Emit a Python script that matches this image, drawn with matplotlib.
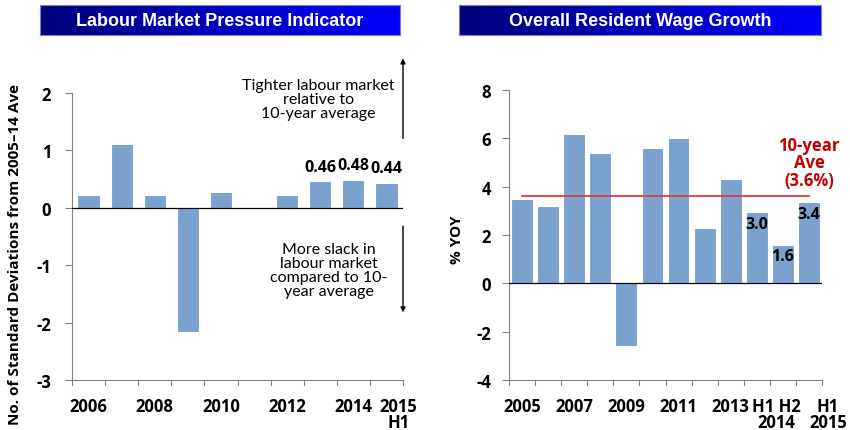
import matplotlib
matplotlib.use("Agg")
import matplotlib.pyplot as plt
import matplotlib.transforms as mtransforms
import numpy as np
from matplotlib.colors import LinearSegmentedColormap

# ---- data ----
lm_cats = ["2006", "2007", "2008", "2009", "2010", "2011", "2012", "2013", "2014", "2015 H1"]
lm_vals = [0.22, 1.12, 0.22, -2.17, 0.28, 0.0, 0.22, 0.46, 0.48, 0.44]
lm_ticklabels = ["2006", "", "2008", "", "2010", "", "2012", "", "2014", "2015\nH1"]
lm_labelled = [7, 8, 9]

wg_cats = ["2005", "2006", "2007", "2008", "2009", "2010", "2011", "2012", "2013", "H1 2014", "H2 2014", "H1 2015"]
wg_vals = [3.5, 3.2, 6.2, 5.4, -2.6, 5.6, 6.0, 2.3, 4.3, 2.95, 1.6, 3.35]
wg_ticklabels = ["2005", "", "2007", "", "2009", "", "2011", "", "2013", "", "", "H1\n2015"]
wg_group_label = "H1 H2\n2014"
wg_labels = {9: "3.0", 10: "1.6", 11: "3.4"}
wg_avg = 3.6

BAR = "#7BA1CE"
BOLD = ["Open Sans", "DejaVu Sans"]
REG = ["Lato", "DejaVu Sans"]
plt.rcParams["font.family"] = REG

W, H = 850, 431
fig = plt.figure(figsize=(8.5, 4.31), dpi=100)

def fx(px): return px / W
def fy(py): return 1 - py / H

cmap = LinearSegmentedColormap.from_list("tb", ["#00007A", "#0000FF"])

def title_box(x0, x1, y0, y1, text):
    a = fig.add_axes([fx(x0), fy(y1), fx(x1 - x0), (y1 - y0) / H])
    grad = np.linspace(0, 1, 256).reshape(1, -1)
    a.imshow(grad, aspect="auto", cmap=cmap, extent=[0, 1, 0, 1])
    a.set_xlim(0, 1); a.set_ylim(0, 1)
    a.set_xticks([]); a.set_yticks([])
    for s in a.spines.values():
        s.set_color("#8080C0"); s.set_linewidth(0.8)
    a.text(0.5, 0.48, text, color="white", fontsize=13, fontweight="bold",
           ha="center", va="center", family=["Liberation Sans", "DejaVu Sans"])

title_box(40, 400, 6, 36, "Labour Market Pressure Indicator")
title_box(459, 821, 6, 36, "Overall Resident Wage Growth")

def style_axes(ax, ypad):
    ax.spines["top"].set_visible(False)
    ax.spines["right"].set_visible(False)
    ax.spines["left"].set_color("#808080")
    ax.spines["bottom"].set_color("#808080")
    ax.tick_params(axis="y", length=5, color="#808080", labelsize=12, pad=ypad)
    ax.tick_params(axis="x", length=0, labelsize=12, pad=12)
    for lab in ax.get_yticklabels() + ax.get_xticklabels():
        lab.set_fontweight("bold")
        lab.set_family(BOLD)

def shift_labels(ax, shifts):
    labs = ax.get_xticklabels()
    for i, dx in shifts.items():
        off = mtransforms.ScaledTranslation(dx / 100.0, 0, fig.dpi_scale_trans)
        labs[i].set_transform(labs[i].get_transform() + off)

# ---- left chart ----
ax1 = fig.add_axes([fx(72), fy(381), fx(403 - 72), (381 - 94) / H])
x1 = np.arange(len(lm_cats))
ax1.bar(x1, lm_vals, width=0.67, color=BAR, edgecolor="white", linewidth=0.8, zorder=2)
ax1.set_xlim(-0.5, len(lm_cats) - 0.5)
ax1.set_ylim(-3, 2)
ax1.set_yticks(np.arange(-3, 3, 1))
ax1.set_yticklabels([str(v) for v in range(-3, 3)])
ax1.set_xticks(x1)
ax1.set_xticklabels(lm_ticklabels, linespacing=0.85)
ax1.axhline(0, color="black", linewidth=0.9, zorder=3)
style_axes(ax1, 10)
shift_labels(ax1, {9: 12})
for b in np.arange(-0.5, len(lm_cats), 1.0):
    ax1.plot([b, b], [-3, -3.08], color="#808080", linewidth=0.8, clip_on=False)
for i in lm_labelled:
    ax1.text(x1[i], lm_vals[i] + 0.12, f"{lm_vals[i]:.2f}", ha="center", va="bottom",
             fontsize=11.5, fontweight="bold", family=BOLD)
ax1.set_ylabel("No. of Standard Deviations from 2005\u201314 Ave", fontsize=11,
               fontweight="bold", family=BOLD)
ax1.yaxis.set_label_coords(-0.15, 0.44)

ax1.text(6.95, 1.9, "Tighter labour market\nrelative to\n10-year average", ha="center",
         va="center", fontsize=11.5, linespacing=1.0)
ax1.text(7.25, -1.08, "More slack in\nlabour market\ncompared to 10-\nyear average", ha="center",
         va="center", fontsize=11.5, linespacing=1.0)
ax1.annotate("", xy=(9.5, 2.65), xytext=(9.5, 1.16),
             arrowprops=dict(arrowstyle="-|>", color="black", lw=1.0, mutation_scale=7),
             annotation_clip=False)
ax1.annotate("", xy=(9.5, -1.87), xytext=(9.5, -0.27),
             arrowprops=dict(arrowstyle="-|>", color="black", lw=1.0, mutation_scale=7),
             annotation_clip=False)

# ---- right chart ----
ax2 = fig.add_axes([fx(509), fy(381), fx(822 - 509), (381 - 91) / H])
x2 = np.arange(len(wg_cats))
ax2.bar(x2, wg_vals, width=0.84, color=BAR, edgecolor="white", linewidth=0.8, zorder=2)
ax2.set_xlim(-0.5, len(wg_cats) - 0.5)
ax2.set_ylim(-4, 8)
ax2.set_yticks(np.arange(-4, 9, 2))
ax2.set_yticklabels([str(v) for v in range(-4, 9, 2)])
ax2.set_xticks(x2)
ax2.set_xticklabels(wg_ticklabels, linespacing=0.85)
ax2.axhline(0, color="black", linewidth=0.9, zorder=3)
style_axes(ax2, 8)
shift_labels(ax2, {11: 19})
for b in np.arange(-0.5, len(wg_cats), 1.0):
    ax2.plot([b, b], [-4, -4.2], color="#808080", linewidth=0.8, clip_on=False)
ax2.annotate(wg_group_label, xy=(9.5, 0), xycoords=("data", "axes fraction"),
             xytext=(7, -17), textcoords="offset pixels", ha="center", va="top",
             fontsize=12, fontweight="bold", family=BOLD, linespacing=0.85,
             annotation_clip=False)
for i, s in wg_labels.items():
    ax2.text(x2[i], wg_vals[i] - 0.15, s, ha="center", va="top", fontsize=11.5,
             fontweight="bold", family=BOLD)
ax2.plot([x2[0], x2[-1]], [wg_avg, wg_avg], color="#E03C3C", linewidth=1.3, zorder=3)
ax2.text(11.0, 5.0, "10-year\nAve\n(3.6%)", color="#C00000", ha="center", va="center",
         fontsize=12, fontweight="bold", family=BOLD, linespacing=0.95)
ax2.set_ylabel("% YOY", fontsize=11, fontweight="bold", family=BOLD)
ax2.yaxis.set_label_coords(-0.145, 0.486)

fig.savefig("out.png", dpi=100)
